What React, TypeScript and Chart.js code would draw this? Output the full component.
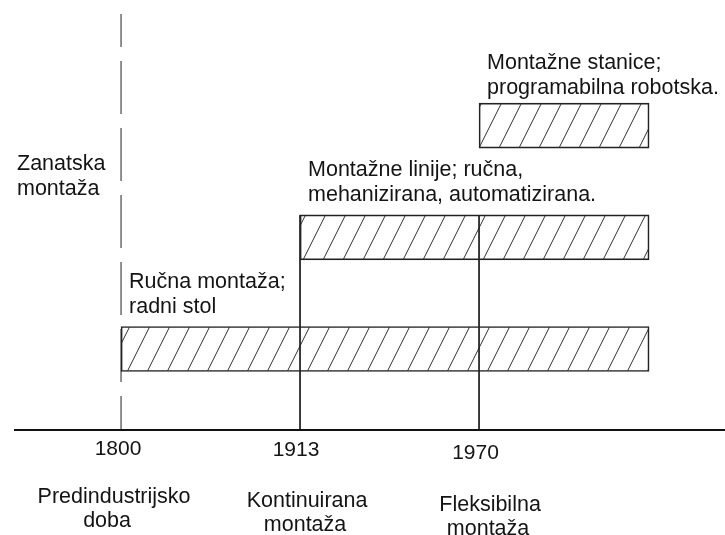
import React, { useEffect, useRef } from 'react';
import { Chart, registerables } from 'chart.js';

Chart.register(...registerables);

// ---- data ----
const years = ['1800', '1913', '1970'];
const eraNames = [
  ['Predindustrijsko', 'doba'],
  ['Kontinuirana', 'montaža'],
  ['Fleksibilna', 'montaža'],
];
const barLabels = [
  ['Ručna montaža;', 'radni stol'],
  ['Montažne linije; ručna,', 'mehanizirana, automatizirana.'],
  ['Montažne stanice;', 'programabilna robotska.'],
];
const barStart = [0, 1, 2]; // index of the year where each bar begins
const barEnd = [2.95, 2.95, 2.95];
const barLevel = [1, 2, 3];
const lineTop = [4.0, 2.2, 2.2]; // level where each year's vertical line starts
const axisLevel = 0.275;
const leftNote = ['Zanatska', 'montaža'];

// ---- layout tweaks (pixels) ----
const yearDx = [-3, -4, -3.5];
const yearDy = [0, 1, 4];
const eraDx = [[-7, -14], [7, 5], [11, 9]];
const eraDy = [0, 3.5, 8];
const barLabelDy = [-1, -1, 4];

const FONT = '"Liberation Sans", Arial, sans-serif';
const INK = '#141414';

function makeHatch(ctx: CanvasRenderingContext2D): CanvasPattern | string {
  const c = document.createElement('canvas');
  c.width = 20;
  c.height = 40;
  const g = c.getContext('2d')!;
  g.strokeStyle = '#333';
  g.lineWidth = 1;
  for (const off of [-20, 0, 20]) {
    g.beginPath();
    g.moveTo(off - 2, 44);
    g.lineTo(off + 22, -4);
    g.stroke();
  }
  const p = ctx.createPattern(c, 'repeat');
  if (!p) return 'transparent';
  try {
    p.setTransform(new DOMMatrix([1, 0, 0, 1, 13, 0]));
  } catch (e) {}
  return p;
}

const textPlugin = {
  id: 'timelineText',
  afterDraw(chart: any) {
    const { ctx, chartArea, scales } = chart;
    const xs = scales.x;
    const ys = scales.y;
    ctx.save();
    // axis line
    ctx.strokeStyle = '#111';
    ctx.lineWidth = 2;
    ctx.beginPath();
    ctx.moveTo(chartArea.left, chartArea.bottom);
    ctx.lineTo(chartArea.right, chartArea.bottom);
    ctx.stroke();

    ctx.fillStyle = INK;
    ctx.textBaseline = 'alphabetic';

    // year labels and era names
    years.forEach((yr, i) => {
      const px = xs.getPixelForValue(i);
      ctx.textAlign = 'center';
      ctx.font = `21px ${FONT}`;
      ctx.fillText(yr, px + yearDx[i], chartArea.bottom + 25 + yearDy[i]);
      ctx.font = `21.5px ${FONT}`;
      ctx.fillText(eraNames[i][0], px + eraDx[i][0], chartArea.bottom + 73 + eraDy[i]);
      ctx.fillText(eraNames[i][1], px + eraDx[i][1], chartArea.bottom + 97 + eraDy[i]);
    });

    // bar labels
    ctx.textAlign = 'left';
    ctx.font = `21.5px ${FONT}`;
    barLabels.forEach((lines, i) => {
      const x = xs.getPixelForValue(barStart[i]) + 8;
      const top = ys.getPixelForValue(barLevel[i]) - 22.5;
      const base2 = top - 13 + barLabelDy[i];
      ctx.fillText(lines[0], x, base2 - 25);
      ctx.fillText(lines[1], x, base2);
    });

    // left note
    const nx = chartArea.left + 3;
    const ny = ys.getPixelForValue(2.6);
    ctx.fillText(leftNote[0], nx, ny);
    ctx.fillText(leftNote[1], nx, ny + 25);
    ctx.restore();
  },
};

export default function App() {
  const ref = useRef<HTMLCanvasElement>(null);
  useEffect(() => {
    document.body.style.margin = '0';
    const canvas = ref.current!;
    const ctx = canvas.getContext('2d')!;
    const hatch = makeHatch(ctx);
    const lineSets = years.map((_, i) => ({
      type: 'line' as const,
      data: [
        { x: i, y: lineTop[i] },
        { x: i, y: axisLevel },
      ],
      borderColor: '#222',
      borderWidth: 1,
      borderDash: i === 0 ? [53, 14] : [],
      borderDashOffset: i === 0 ? 20 : 0,
      pointRadius: 0,
      fill: false,
      tension: 0,
      clip: false as any,
      order: 1,
    }));
    const chart = new Chart(ctx, {
      type: 'bar',
      data: {
        datasets: [
          {
            type: 'bar',
            indexAxis: 'y',
            data: barLevel.map((lv, i) => ({ y: lv, x: [barStart[i], barEnd[i]] })) as any,
            backgroundColor: hatch as any,
            borderColor: '#222',
            borderWidth: 1,
            borderSkipped: false,
            barThickness: 45,
            order: 2,
          } as any,
          ...(lineSets as any[]),
        ],
      },
      options: {
        responsive: false,
        animation: false,
        devicePixelRatio: 1,
        events: [],
        layout: { padding: { left: 14, right: 0, top: 14, bottom: 105 } },
        plugins: { legend: { display: false }, tooltip: { enabled: false } },
        scales: {
          x: { type: 'linear', display: false, offset: false, min: -0.598, max: 3.374 },
          y: { type: 'linear', display: false, offset: false, min: axisLevel, max: 4.0 },
        },
      },
      plugins: [textPlugin],
    });
    return () => chart.destroy();
  }, []);
  return (
    <div style={{ width: 725, height: 535 }}>
      <canvas ref={ref} width={725} height={535} style={{ display: 'block' }} />
    </div>
  );
}
